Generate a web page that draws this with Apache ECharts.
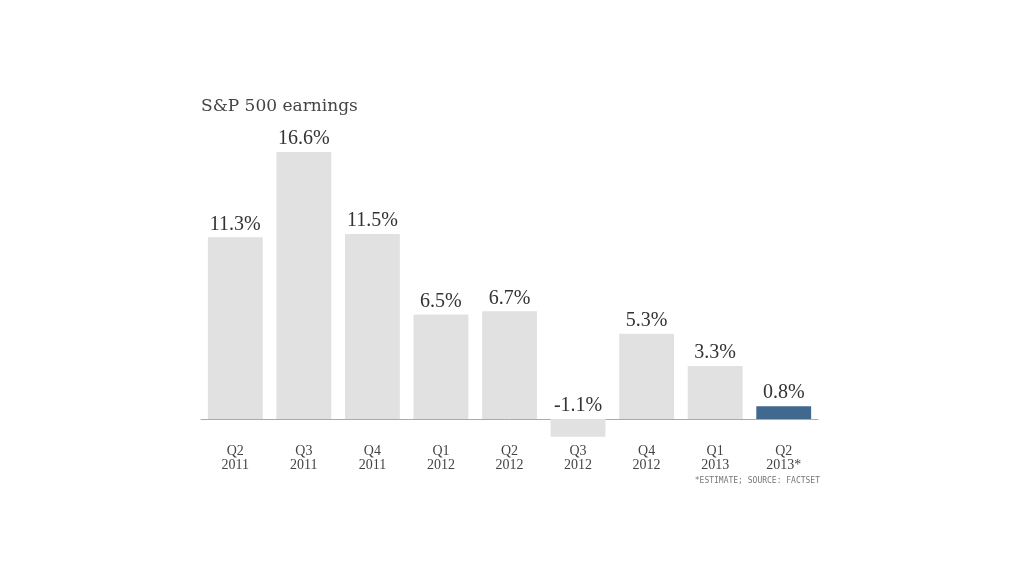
<!DOCTYPE html>
<html><head><meta charset="utf-8">
<script src="https://cdn.jsdelivr.net/npm/echarts@6/dist/echarts.min.js"></script>
<style>html,body{margin:0;padding:0;background:#fff}#c{width:1024px;height:576px}</style>
</head><body><div id="c"></div>
<script>
const categories = ["Q2\n2011","Q3\n2011","Q4\n2011","Q1\n2012","Q2\n2012","Q3\n2012","Q4\n2012","Q1\n2013","Q2\n2013*"];
const values = [11.3, 16.6, 11.5, 6.5, 6.7, -1.1, 5.3, 3.3, 0.8];
const highlightIndex = 8;
const titleText = "S&P 500 earnings";
const footnote = "*ESTIMATE; SOURCE: FACTSET";

const chart = echarts.init(document.getElementById('c'));
chart.setOption({
  animation: false,
  backgroundColor: '#fff',
  title: [{
    text: titleText, left: 196, top: 93, padding: 5,
    textStyle: {fontFamily: 'DejaVu Serif', fontSize: 17, fontWeight: 'normal', color: '#444'}
  },{
    text: footnote, right: 204, top: 477, padding: 0,
    textStyle: {fontFamily: 'DejaVu Sans Mono', fontSize: 8, fontWeight: 'normal', color: '#777'}
  }],
  grid: {left: 201, width: 617, top: 129.6, height: 308.7},
  xAxis: {
    type: 'category', data: categories,
    axisLine: {show: true, onZero: true, lineStyle: {color: '#aaaaaa', width: 1}},
    axisTick: {show: false},
    axisLabel: {margin: 6, fontFamily: 'Liberation Serif', fontSize: 14, color: '#444', lineHeight: 14}
  },
  yAxis: {type: 'value', min: -1.2, max: 18, show: false, splitLine: {show: false}},
  series: [{
    type: 'bar', barCategoryGap: '20%',
    data: values.map((v, i) => ({value: v, itemStyle: {color: i === highlightIndex ? '#41698f' : '#e1e1e1'}})),
    label: {
      show: true, position: 'top', distance: 3,
      formatter: p => p.value + '%',
      fontFamily: 'Liberation Serif', fontSize: 20, color: '#333'
    }
  }]
});
</script></body></html>
